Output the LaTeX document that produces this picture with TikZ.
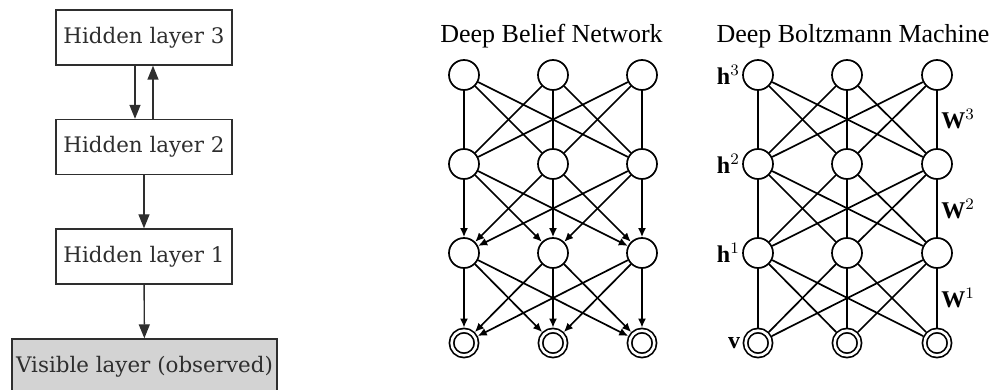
\documentclass[tikz,border=0pt]{standalone}
\usepackage{fontspec}
\setmainfont{Liberation Serif}
\newfontfamily\gvfont{DejaVu Serif}
\usetikzlibrary{arrows.meta, positioning}
\definecolor{gvgris}{HTML}{D3D3D3}
\definecolor{gvlinea}{HTML}{2E2E2E}

\begin{document}
\begin{tikzpicture}[
            x=0.5pt, y=-0.5pt,
            capa/.style={draw=gvlinea, text=gvlinea, line width=0.7pt,
                         font=\gvfont\fontsize{10.7}{13}\selectfont,
                         minimum width=88pt, minimum height=27.5pt, inner sep=0pt},
            visible/.style={capa, fill=gvgris, minimum width=132.5pt},
            gvflecha/.style={-{Triangle[length=7pt, width=5.5pt]}, draw=gvlinea, line width=0.7pt},
            unidad/.style={circle, draw, line width=0.85pt, minimum size=15pt, inner sep=0pt},
            visunidad/.style={unidad, double, double distance=1.3pt,
                              minimum size=12.4pt, outer sep=1.5pt},
            arista/.style={line width=0.85pt},
            flecha/.style={arista, -{Latex[length=4.5pt, width=4pt]}},
            titulo/.style={font=\fontsize{13}{15}\selectfont, anchor=base},
            etiq/.style={font=\fontsize{12}{14}\selectfont, inner sep=1pt}
        ]
        \useasboundingbox (0,0) rectangle (992,390);

        % Capas (grafo de la izquierda)
        \node[capa]    (h3) at (144,37.5)  {Hidden layer 3};
        \node[capa]    (h2) at (144,147)   {Hidden layer 2};
        \node[capa]    (h1) at (144,256.5) {Hidden layer 1};
        \node[visible] (v)  at (144.5,366.5) {Visible layer (observed)};
        \draw[gvflecha] ([xshift=-4.5pt]h3.south) -- ([xshift=-4.5pt]h2.north);
        \draw[gvflecha] ([xshift=4.5pt]h2.north) -- ([xshift=4.5pt]h3.south);
        \draw[gvflecha] (h2) -- (h1);
        \draw[gvflecha] (h1) -- (v);

        % --- Deep Belief Network ---
        \node[titulo] (tdbn) at (551.5,42.5) {Deep Belief Network};
        \foreach \c/\x in {1/464, 2/553, 3/642} {
            \foreach \f/\y in {1/75, 2/164, 3/253}
                \node[unidad] (b\f\c) at (\x,\y) {};
            \node[visunidad] (b4\c) at (\x,343) {};
        }
        \foreach \i in {1,2,3} \foreach \j in {1,2,3} {
            \draw[arista] (b1\i) -- (b2\j);
            \draw[flecha] (b2\i) -- (b3\j);
            \draw[flecha] (b3\i) -- (b4\j);
        }

        % --- Deep Boltzmann Machine ---
        \node[titulo] (tdbm) at (853,42.5) {Deep Boltzmann Machine};
        \foreach \c/\x in {1/758, 2/847, 3/937} {
            \foreach \f/\y in {1/75, 2/164, 3/253}
                \node[unidad] (m\f\c) at (\x,\y) {};
            \node[visunidad] (m4\c) at (\x,343) {};
        }
        \foreach \i in {1,2,3} \foreach \j in {1,2,3} {
            \draw[arista] (m1\i) -- (m2\j);
            \draw[arista] (m2\i) -- (m3\j);
            \draw[arista] (m3\i) -- (m4\j);
        }

        % Etiquetas
        \node[etiq, left=0pt of m11] (lh3) {$\mathbf{h}^3$};
        \node[etiq, left=0pt of m21] (lh2) {$\mathbf{h}^2$};
        \node[etiq, left=0pt of m31] (lh1) {$\mathbf{h}^1$};
        \node[etiq, left=0pt of m41] (lv)  {$\mathbf{v}$};
        \node[etiq, anchor=west] (lw3) at (939,119) {$\mathbf{W}^3$};
        \node[etiq, anchor=west] (lw2) at (939,209) {$\mathbf{W}^2$};
        \node[etiq, anchor=west] (lw1) at (939,298) {$\mathbf{W}^1$};

        \end{tikzpicture}
\end{document}
